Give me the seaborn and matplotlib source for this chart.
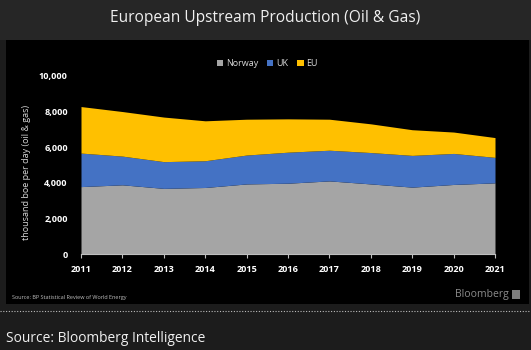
import numpy as np
import seaborn as sns
import matplotlib.pyplot as plt
from matplotlib.patches import Rectangle
from matplotlib.lines import Line2D

# Values (thousand boe per day)
years = [2011, 2012, 2013, 2014, 2015, 2016, 2017, 2018, 2019, 2020, 2021]
norway = [3780, 3880, 3680, 3730, 3930, 3970, 4100, 3930, 3750, 3900, 3990]
uk = [1880, 1610, 1500, 1500, 1620, 1740, 1720, 1760, 1780, 1740, 1430]
eu = [2610, 2500, 2500, 2240, 2010, 1870, 1740, 1610, 1440, 1200, 1110]
series_names = ["Norway", "UK", "EU"]
y_ticks = [0, 2000, 4000, 6000, 8000, 10000]

colors = ["#a5a5a5", "#4472c4", "#ffc000"]

sns.set_style("dark")
plt.rcParams["font.family"] = ["Open Sans", "DejaVu Sans"]

fig = plt.figure(figsize=(5.31, 3.5), dpi=100)
fig.patch.set_facecolor("#1c1c1c")

# Background bands
W, H = 531, 350
def box(x0, y0, x1, y1, color, z=-10):
    fig.patches.append(Rectangle((x0 / W, 1 - y1 / H), (x1 - x0) / W, (y1 - y0) / H,
                                 transform=fig.transFigure, facecolor=color,
                                 edgecolor="none", zorder=z))

box(0, 0, W, 40, "#262626")
box(6, 40, 529, 304, "#000000")
fig.lines.append(Line2D([0, 1], [1 - 311 / H] * 2, transform=fig.transFigure,
                        color="#bbbbbb", lw=0.8, ls=(0, (1, 1.5))))

fig.text(0.5, 1 - 18 / H, "European Upstream Production (Oil & Gas)",
         ha="center", va="center", color="#f0f0f0", fontsize=11.2)
fig.text(6 / W, 1 - 338 / H, "Source: Bloomberg Intelligence",
         ha="left", va="center", color="#f0f0f0", fontsize=9.9)

ax = fig.add_axes([81 / W, 1 - 254 / H, (495 - 81) / W, (254 - 75.7) / H])
ax.set_zorder(5)
ax.set_facecolor("black")
ax.stackplot(years, norway, uk, eu, colors=colors, labels=series_names, lw=0)

ax.set_xlim(2011, 2021)
ax.set_ylim(0, 10000)
ax.set_xticks(years)
ax.set_yticks(y_ticks)
ax.set_yticklabels([f"{v:,}" for v in y_ticks])
ax.grid(False)
for side in ["top", "right", "left"]:
    ax.spines[side].set_visible(False)
ax.spines["bottom"].set_color("#bfbfbf")
ax.spines["bottom"].set_linewidth(0.8)
ax.tick_params(axis="x", colors="#bfbfbf", length=3, width=0.8, pad=5,
               labelcolor="white", labelsize=6.6, bottom=True)
ax.tick_params(axis="y", left=False, labelcolor="white", labelsize=6.6, pad=6)
for lab in ax.get_xticklabels() + ax.get_yticklabels():
    lab.set_fontweight("bold")
ax.set_ylabel("thousand boe per day (oil & gas)", color="#d9d9d9", fontsize=6.5)
ax.yaxis.set_label_coords(-0.12, 0.455)

leg = ax.legend(loc="lower center", bbox_to_anchor=(0.45, 0.995), ncol=3, frameon=False,
                fontsize=6.5, handlelength=0.7, handleheight=0.7, handletextpad=0.3,
                columnspacing=1.0, labelcolor="#d9d9d9")

fig.text(12 / W, 1 - 297 / H, "Source: BP Statistical Review of World Energy",
         ha="left", va="center", color="#bfbfbf", fontsize=4)
fig.text(509 / W, 1 - 295 / H, "Bloomberg", ha="right", va="center",
         color="#8c8c8c", fontsize=7.5)
box(512, 290, 520, 299, "#7f7f7f", z=1)

fig.savefig("out.png", dpi=100, facecolor=fig.get_facecolor())
